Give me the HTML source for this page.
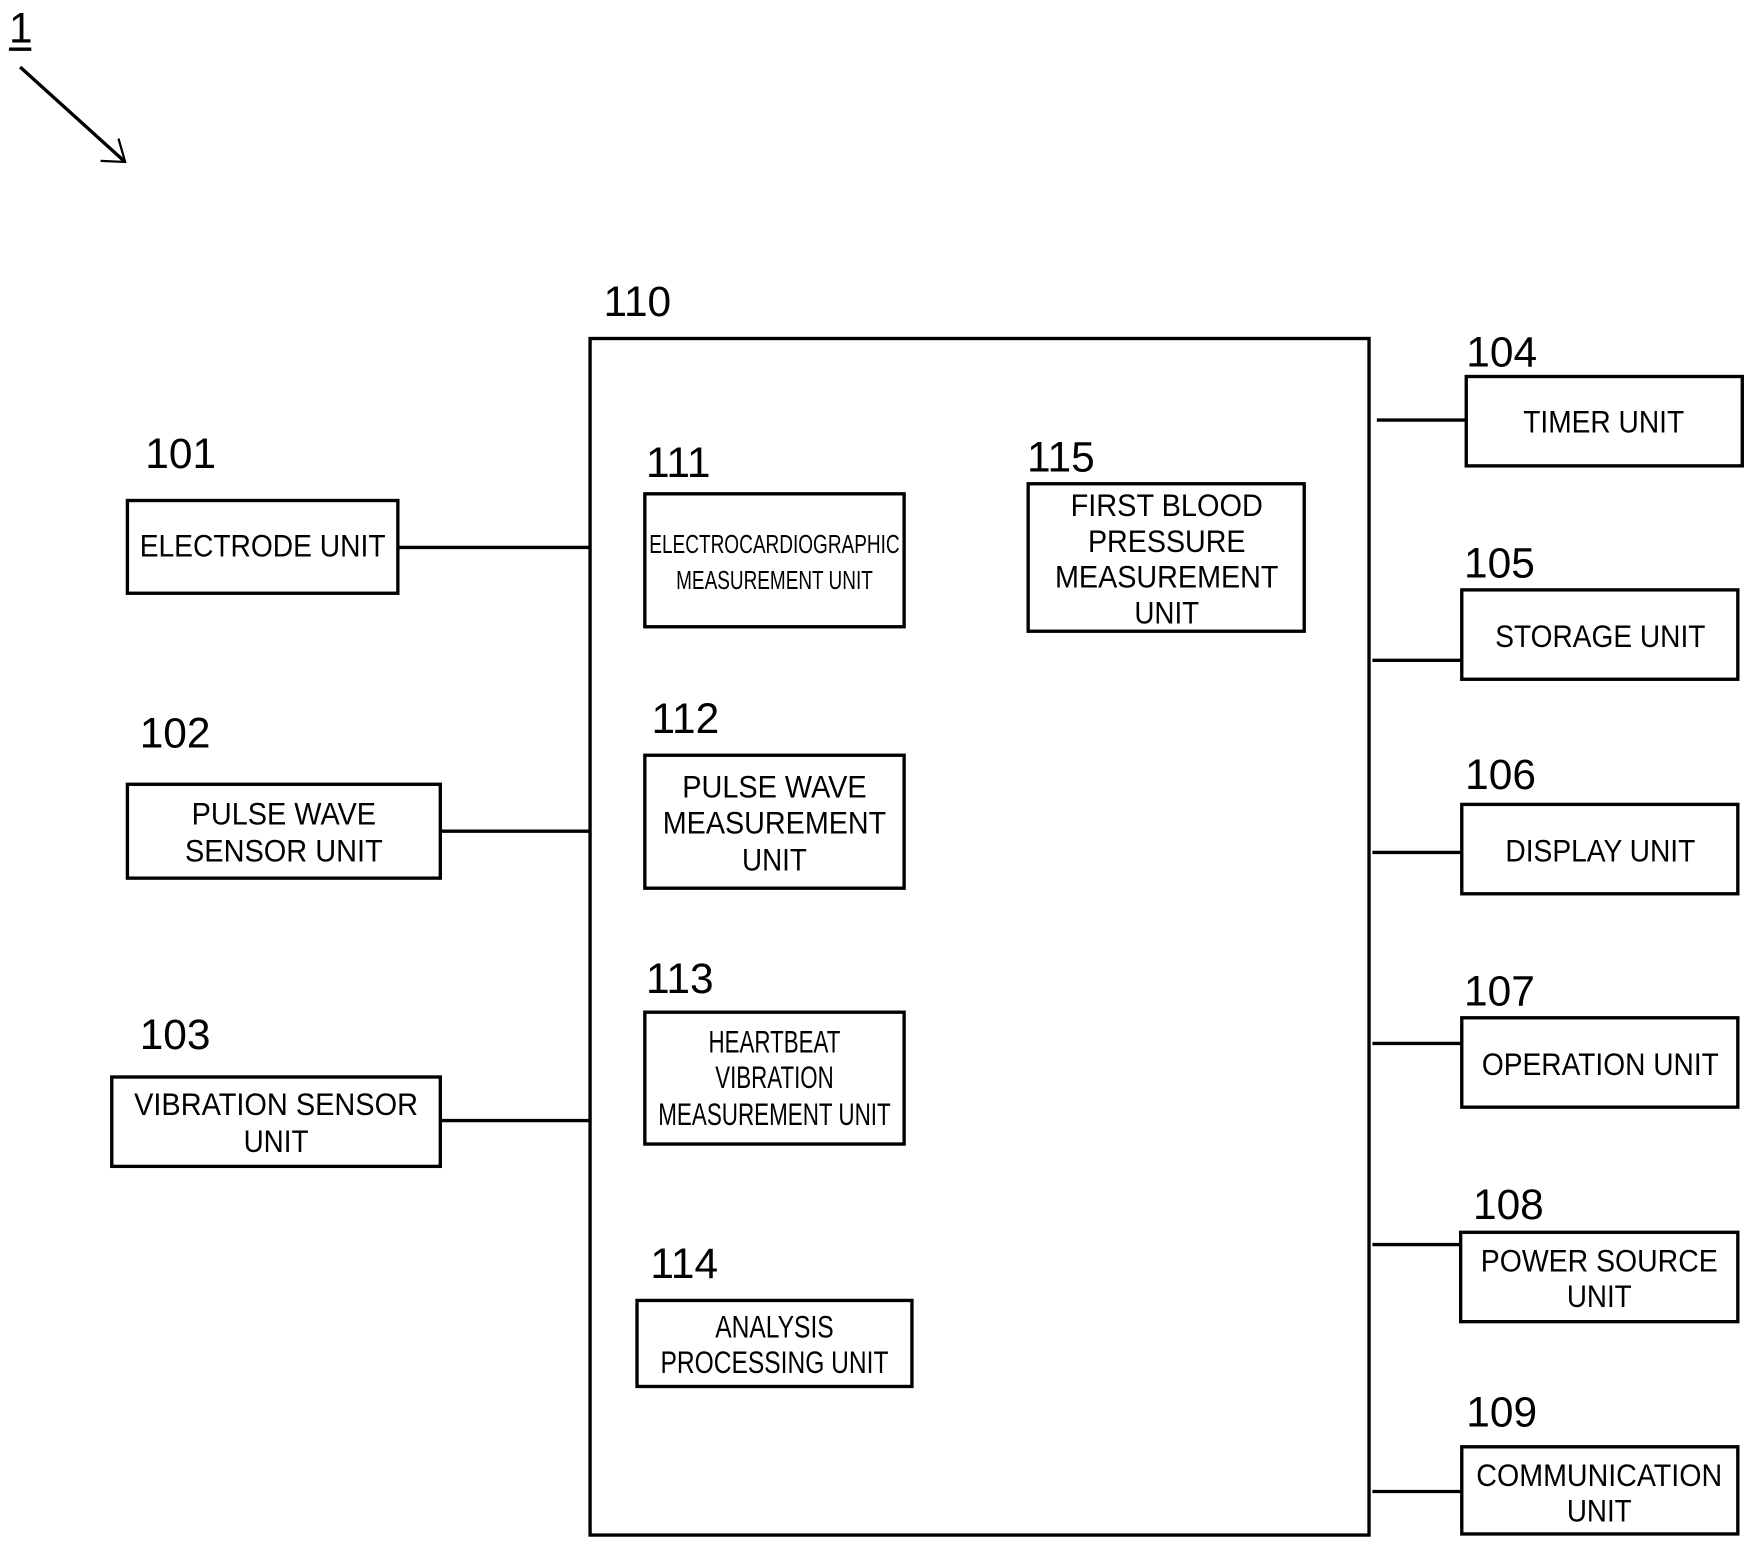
<!DOCTYPE html>
<html><head><meta charset="utf-8"><style>
html,body{margin:0;padding:0;background:#fff;}
svg{display:block;}
text{font-family:"Liberation Sans",sans-serif;fill:#000;}
.n{font-size:38px;}
.t{font-size:28px;text-anchor:middle;}
.s{font-size:23px;text-anchor:middle;}
rect{fill:none;stroke:#000;stroke-width:3;}
line{stroke:#000;stroke-width:3;}
</style></head><body>
<svg width="1749" height="1544" viewBox="0 0 1565 1382" preserveAspectRatio="none">
<text class="n" x="8" y="38">1</text>
<line x1="8" y1="44" x2="28" y2="44" stroke-width="2"/>
<line x1="18" y1="60" x2="112" y2="145" stroke-width="2"/>
<polyline points="90,144 112,145 106,124" fill="none" stroke="#000" stroke-width="2"/>

<text class="n" x="540" y="283">110</text>
<rect x="528" y="303" width="697" height="1071"/>

<text class="n" x="130" y="419">101</text>
<rect x="114" y="448" width="242" height="83"/>
<text class="t" x="235" y="498" textLength="220" lengthAdjust="spacingAndGlyphs">ELECTRODE UNIT</text>
<line x1="356" y1="490" x2="528" y2="490" stroke-width="4"/>

<text class="n" x="125" y="669">102</text>
<rect x="114" y="702" width="280" height="84"/>
<text class="t" x="254" y="738" textLength="165" lengthAdjust="spacingAndGlyphs">PULSE WAVE</text>
<text class="t" x="254" y="771" textLength="177" lengthAdjust="spacingAndGlyphs">SENSOR UNIT</text>
<line x1="394" y1="744" x2="528" y2="744"/>

<text class="n" x="125" y="939">103</text>
<rect x="100" y="964" width="294" height="80"/>
<text class="t" x="247" y="998" textLength="254" lengthAdjust="spacingAndGlyphs">VIBRATION SENSOR</text>
<text class="t" x="247" y="1031" textLength="58" lengthAdjust="spacingAndGlyphs">UNIT</text>
<line x1="394" y1="1003" x2="528" y2="1003"/>

<text class="n" x="578" y="427">111</text>
<rect x="577" y="442" width="232" height="119"/>
<text class="s" x="693" y="495" textLength="224" lengthAdjust="spacingAndGlyphs">ELECTROCARDIOGRAPHIC</text>
<text class="s" x="693" y="527" textLength="176" lengthAdjust="spacingAndGlyphs">MEASUREMENT UNIT</text>

<text class="n" x="583" y="656">112</text>
<rect x="577" y="676" width="232" height="119"/>
<text class="t" x="693" y="714" textLength="165" lengthAdjust="spacingAndGlyphs">PULSE WAVE</text>
<text class="t" x="693" y="746" textLength="200" lengthAdjust="spacingAndGlyphs">MEASUREMENT</text>
<text class="t" x="693" y="779" textLength="58" lengthAdjust="spacingAndGlyphs">UNIT</text>

<text class="n" x="578" y="889">113</text>
<rect x="577" y="906" width="232" height="118"/>
<text class="t" x="693" y="942" textLength="118" lengthAdjust="spacingAndGlyphs">HEARTBEAT</text>
<text class="t" x="693" y="974" textLength="106" lengthAdjust="spacingAndGlyphs">VIBRATION</text>
<text class="t" x="693" y="1007" textLength="208" lengthAdjust="spacingAndGlyphs">MEASUREMENT UNIT</text>

<text class="n" x="582" y="1144">114</text>
<rect x="570" y="1164" width="246" height="77"/>
<text class="t" x="693" y="1197" textLength="106" lengthAdjust="spacingAndGlyphs">ANALYSIS</text>
<text class="t" x="693" y="1229" textLength="204" lengthAdjust="spacingAndGlyphs">PROCESSING UNIT</text>

<text class="n" x="919" y="422">115</text>
<rect x="920" y="433" width="247" height="132"/>
<text class="t" x="1044" y="462" textLength="172" lengthAdjust="spacingAndGlyphs">FIRST BLOOD</text>
<text class="t" x="1044" y="494" textLength="141" lengthAdjust="spacingAndGlyphs">PRESSURE</text>
<text class="t" x="1044" y="526" textLength="200" lengthAdjust="spacingAndGlyphs">MEASUREMENT</text>
<text class="t" x="1044" y="558" textLength="58" lengthAdjust="spacingAndGlyphs">UNIT</text>

<text class="n" x="1312" y="328">104</text>
<rect x="1312" y="337" width="247" height="80"/>
<text class="t" x="1435" y="387" textLength="144" lengthAdjust="spacingAndGlyphs">TIMER UNIT</text>
<line x1="1232" y1="376" x2="1312" y2="376"/>

<text class="n" x="1310" y="517">105</text>
<rect x="1308" y="528" width="247" height="80"/>
<text class="t" x="1432" y="579" textLength="188" lengthAdjust="spacingAndGlyphs">STORAGE UNIT</text>
<line x1="1228" y1="591" x2="1308" y2="591"/>

<text class="n" x="1311" y="706">106</text>
<rect x="1308" y="720" width="247" height="80"/>
<text class="t" x="1432" y="771" textLength="170" lengthAdjust="spacingAndGlyphs">DISPLAY UNIT</text>
<line x1="1228" y1="763" x2="1308" y2="763" stroke-width="4"/>

<text class="n" x="1310" y="900">107</text>
<rect x="1308" y="911" width="247" height="80"/>
<text class="t" x="1432" y="962" textLength="212" lengthAdjust="spacingAndGlyphs">OPERATION UNIT</text>
<line x1="1228" y1="934" x2="1308" y2="934"/>

<text class="n" x="1318" y="1091">108</text>
<rect x="1307" y="1103" width="248" height="80"/>
<text class="t" x="1431" y="1138" textLength="212" lengthAdjust="spacingAndGlyphs">POWER SOURCE</text>
<text class="t" x="1431" y="1170" textLength="58" lengthAdjust="spacingAndGlyphs">UNIT</text>
<line x1="1228" y1="1114" x2="1307" y2="1114"/>

<text class="n" x="1312" y="1277">109</text>
<rect x="1308" y="1295" width="247" height="78"/>
<text class="t" x="1431" y="1330" textLength="220" lengthAdjust="spacingAndGlyphs">COMMUNICATION</text>
<text class="t" x="1431" y="1362" textLength="58" lengthAdjust="spacingAndGlyphs">UNIT</text>
<line x1="1228" y1="1335" x2="1308" y2="1335"/>
</svg>
</body></html>
